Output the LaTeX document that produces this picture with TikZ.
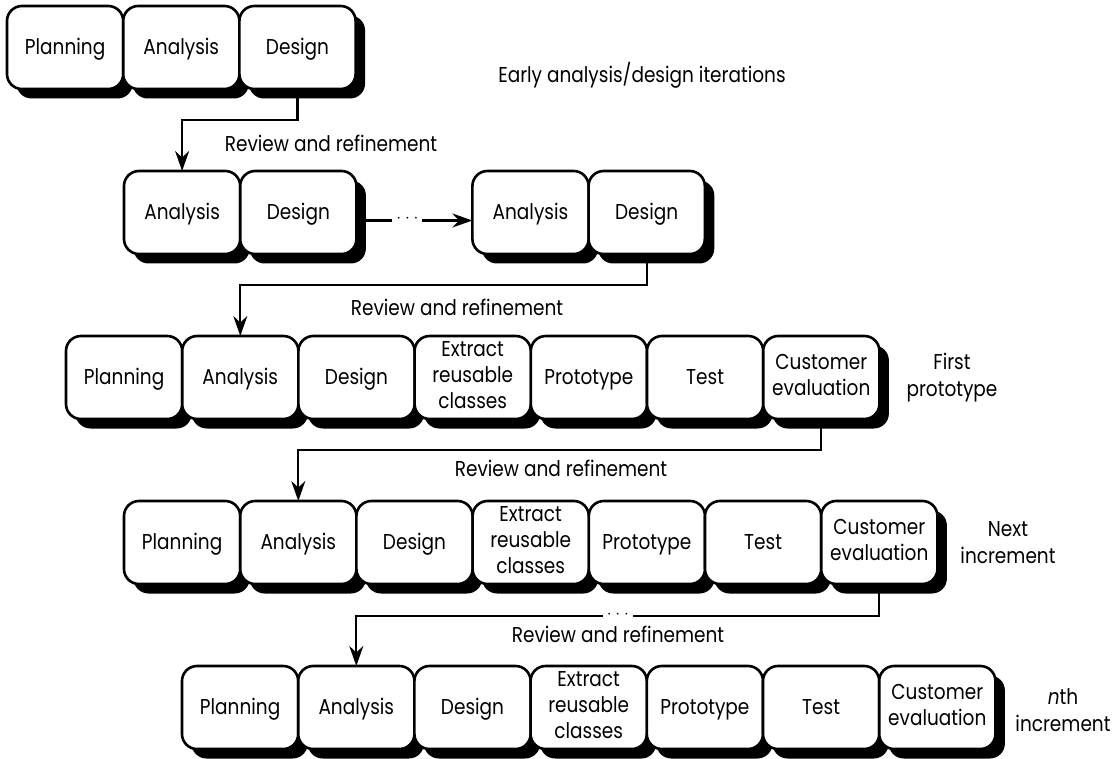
\documentclass[tikz,border=0pt]{standalone}
\usepackage{fontspec}
\setmainfont{Poppins}[FakeStretch=0.86]
\usetikzlibrary{positioning,shadows,arrows.meta}

\tikzset{
  phase/.style={draw, line width=2.6pt, fill=white, rounded corners=15pt,
    minimum width=116.2pt, minimum height=83pt, inner sep=0pt, outer sep=0pt,
    align=center, font=\fontsize{21.5}{26}\selectfont,
    execute at begin node={\rule{0pt}{19pt}},
    execute at end node={\rule[-5pt]{0pt}{5pt}},
    drop shadow={shadow xshift=9.5pt, shadow yshift=-9.5pt, opacity=1, fill=black}},
  flow/.style={->, line width=2.2pt},
  note/.style={align=center, font=\fontsize{21.5}{27}\selectfont},
  gap/.style={fill=white, inner xsep=4pt, inner ysep=2pt,
    text height=.5em, text depth=0pt, font=\fontsize{18.5}{22}\selectfont},
}

\begin{document}
\begin{tikzpicture}[x=1pt,y=-1pt,>={Stealth[length=20pt,width=14pt]}]
  \useasboundingbox (0,0) rectangle (1116,759);

  % First pass: planning, analysis, design.
  \node[phase, anchor=north west] (r1c1) at (7,6) {Planning};
  \node[phase, right=0pt of r1c1] (r1c2) {Analysis};
  \node[phase, right=0pt of r1c2] (r1c3) {Design};

  % Early analysis/design iterations.
  \node[phase, anchor=north west] (r2c1) at (124,171) {Analysis};
  \node[phase, right=0pt of r2c1] (r2c2) {Design};
  \node[phase, right=116pt of r2c2] (r2c3) {Analysis};
  \node[phase, right=0pt of r2c3] (r2c4) {Design};

  % Prototype, next increment, nth increment.
  \foreach \r/\x/\y in {3/66/336, 4/124/501, 5/182/666} {
    \node[phase, anchor=north west] (r\r c1) at (\x,\y) {Planning};
    \node[phase, right=0pt of r\r c1] (r\r c2) {Analysis};
    \node[phase, right=0pt of r\r c2] (r\r c3) {Design};
    \node[phase, right=0pt of r\r c3] (r\r c4) {Extract\\reusable\\classes};
    \node[phase, right=0pt of r\r c4] (r\r c5) {Prototype};
    \node[phase, right=0pt of r\r c5] (r\r c6) {Test};
    \node[phase, right=0pt of r\r c6] (r\r c7) {Customer\\evaluation};
  }

  % Review loops.
  \draw[flow] (r1c3.south) -- ++(0,31) -| (r2c1.north);
  \draw[flow] ([yshift=-8pt]r2c2.east) --
    node[gap, pos=.44] {$\cdotp\mkern1mu\cdotp\mkern1mu\cdotp$} ([yshift=-8pt]r2c3.west);
  \draw[flow] (r2c4.south) -- ++(0,31) -| (r3c2.north);
  \draw[flow] (r3c7.south) -- ++(0,31) -| (r4c2.north);
  \draw[flow] (r4c7.south) -- ++(0,32) -|
    node[gap, pos=.25] {$\cdotp\mkern1mu\cdotp\mkern1mu\cdotp$} (r5c2.north);

  \node[note] (rev1) at (331,143) {Review and refinement};
  \node[note] (early) at (642,75) {Early analysis/design iterations};
  \node[note] (rev2) at (457,307) {Review and refinement};
  \node[note] (rev3) at (561,468) {Review and refinement};
  \node[note] (rev4) at (618,634) {Review and refinement};

  \node[note] (first) at (952,378) {First\\prototype};
  \node[note] (next) at (1008,543) {Next\\increment};
  \node[note] (nth) at (1063,710) {\textit{n}th\\increment};
\end{tikzpicture}
\end{document}
